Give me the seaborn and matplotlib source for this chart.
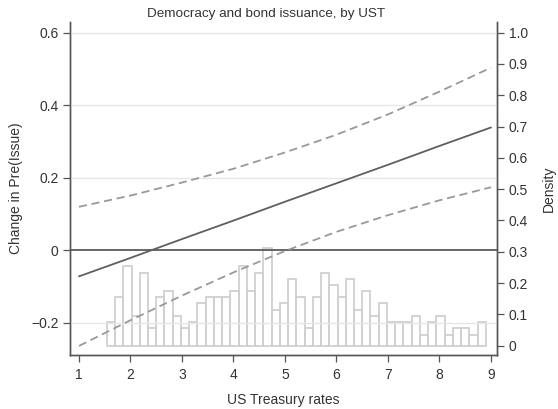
import numpy as np
import pandas as pd
import matplotlib
matplotlib.use("Agg")
import matplotlib.pyplot as plt
import seaborn as sns

# Marginal effect of democracy on Pr(Issue) across US Treasury rates
ust = [1, 2, 3, 4, 5, 6, 7, 8, 9]
effect = [-0.072, -0.021, 0.031, 0.082, 0.134, 0.185, 0.236, 0.288, 0.339]
upper_ci = [0.120, 0.151, 0.187, 0.225, 0.270, 0.319, 0.375, 0.438, 0.504]
lower_ci = [-0.264, -0.193, -0.125, -0.061, -0.002, 0.051, 0.097, 0.138, 0.174]

# Density of US Treasury rates in the sample (46 bins)
hist_lo, hist_hi = 1.54, 8.90
density = [0.075, 0.155, 0.253, 0.095, 0.233, 0.055, 0.155, 0.175, 0.095, 0.055,
           0.075, 0.135, 0.155, 0.155, 0.155, 0.175, 0.253, 0.175, 0.233, 0.313,
           0.114, 0.135, 0.214, 0.155, 0.055, 0.155, 0.233, 0.194, 0.155, 0.214,
           0.114, 0.175, 0.095, 0.135, 0.075, 0.075, 0.075, 0.095, 0.034, 0.075,
           0.095, 0.034, 0.055, 0.055, 0.034, 0.075]

x_ticks = [1, 2, 3, 4, 5, 6, 7, 8, 9]
left_ticks = [-0.2, 0, 0.2, 0.4, 0.6]
left_labels = ["\u22120.2", "0", "0.2", "0.4", "0.6"]
right_ticks = [0, 0.1, 0.2, 0.3, 0.4, 0.5, 0.6, 0.7, 0.8, 0.9, 1.0]
right_labels = ["0", "0.1", "0.2", "0.3", "0.4", "0.5", "0.6", "0.7", "0.8", "0.9", "1.0"]

sns.set_theme(style="white")
plt.rcParams["font.family"] = ["Liberation Sans", "DejaVu Sans"]
plt.rcParams["font.size"] = 10
plt.rcParams["axes.unicode_minus"] = True

TEXT = "#333333"
SPINE = "#555555"

fig = plt.figure(figsize=(5.58, 4.09), dpi=100)
ax = fig.add_axes([0.1254, 0.1320, 0.7653, 0.8142])
ax2 = ax.twinx()

# histogram on the secondary axis
edges = np.linspace(hist_lo, hist_hi, len(density) + 1)
hist_df = pd.DataFrame({"rate": (edges[:-1] + edges[1:]) / 2, "density": density})
sns.histplot(data=hist_df, x="rate", weights="density", bins=edges.tolist(),
             stat="count", fill=False, element="bars", color="#d0d0d0",
             linewidth=1.3, ax=ax2)

# primary axis drawn above the histogram
ax.set_zorder(ax2.get_zorder() + 1)
ax.patch.set_visible(False)

for yv in [-0.2, 0.2, 0.4, 0.6]:
    ax.axhline(yv, color="#e6e6e6", linewidth=1.0, zorder=0)
ax.axhline(0, color="#5a5a5a", linewidth=1.3, zorder=1)

df = pd.DataFrame({"ust": ust, "effect": effect, "upper": upper_ci, "lower": lower_ci})
sns.lineplot(data=df, x="ust", y="effect", color="#5f5f5f", linewidth=1.3, ax=ax, zorder=3)
sns.lineplot(data=df, x="ust", y="upper", color="#999999", linewidth=1.3,
             ax=ax, zorder=3).lines[-1].set_dashes((4.5, 2.6))
sns.lineplot(data=df, x="ust", y="lower", color="#999999", linewidth=1.3,
             ax=ax, zorder=3).lines[-1].set_dashes((4.5, 2.6))

ax.set_xlim(0.825, 9.117)
ax.set_ylim(-0.289, 0.63)
ax2.set_ylim(-0.030, 1.034)

ax.set_xticks(x_ticks)
ax.set_xticklabels([str(v) for v in x_ticks])
ax.set_yticks(left_ticks)
ax.set_yticklabels(left_labels)
ax2.set_yticks(right_ticks)
ax2.set_yticklabels(right_labels)

for a in (ax, ax2):
    for side in ("left", "right", "bottom"):
        a.spines[side].set_color(SPINE)
        a.spines[side].set_linewidth(1.0)
    a.spines["top"].set_visible(False)
    a.tick_params(colors=SPINE, labelcolor=TEXT, width=0.9, length=4.8, labelsize=10)
ax.tick_params(axis="y", pad=3.5, left=True)
ax.tick_params(axis="x", pad=4.5, bottom=True)
ax2.tick_params(axis="y", pad=3.5, right=True)

ax.set_xlabel("US Treasury rates", color=TEXT, fontsize=10, labelpad=8)
ax.set_ylabel("Change in Pre(Issue)", color=TEXT, fontsize=10, labelpad=6)
ax2.set_ylabel("Density", color=TEXT, fontsize=10, labelpad=10)
ax2.set_xlabel("")

fig.text(266 / 558, 1 - 14 / 409, "Democracy and bond issuance, by UST",
         ha="center", va="center", color=TEXT, fontsize=9.7)

fig.savefig("out.png", dpi=100)
